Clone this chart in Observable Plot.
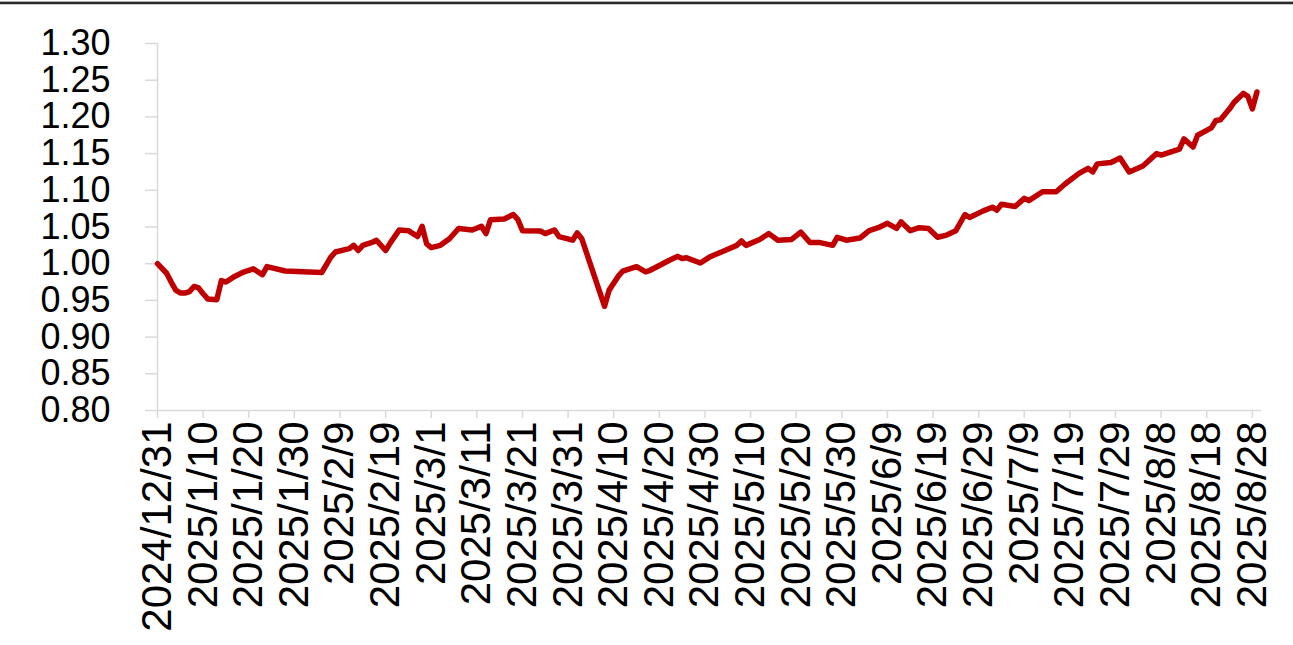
<!DOCTYPE html>
<html>
<head>
<meta charset="utf-8">
<script src="https://cdn.jsdelivr.net/npm/d3@7"></script>
<script src="https://cdn.jsdelivr.net/npm/@observablehq/plot@0.6"></script>
<style>
  html, body { margin: 0; padding: 0; background: #fff; }
  #wrap { position: relative; width: 1293px; height: 645px; overflow: hidden; }
  #topline { position: absolute; left: 0; top: 1px; width: 1293px; height: 4px;
    background: linear-gradient(#b0b0b0 0, #b0b0b0 1px, #2a2a2a 1px, #2a2a2a 3px, #c8c8c8 3px, #c8c8c8 4px); }
</style>
</head>
<body>
<div id="wrap"><div id="topline"></div><div id="chart"></div></div>
<script>
const dates = [
  "2024-12-31","2025-01-02","2025-01-03","2025-01-04","2025-01-05","2025-01-06","2025-01-07","2025-01-08",
  "2025-01-09","2025-01-10","2025-01-11","2025-01-13","2025-01-14","2025-01-15","2025-01-17","2025-01-19",
  "2025-01-21","2025-01-23","2025-01-24","2025-01-28","2025-02-05","2025-02-07","2025-02-08","2025-02-11",
  "2025-02-12","2025-02-13","2025-02-14","2025-02-16","2025-02-17","2025-02-19","2025-02-20","2025-02-22",
  "2025-02-24","2025-02-26","2025-02-27","2025-02-28","2025-03-01","2025-03-03","2025-03-05","2025-03-07",
  "2025-03-10","2025-03-12","2025-03-13","2025-03-14","2025-03-17","2025-03-19","2025-03-20","2025-03-21",
  "2025-03-25","2025-03-26","2025-03-28","2025-03-29","2025-04-01","2025-04-02","2025-04-03","2025-04-08",
  "2025-04-09","2025-04-11","2025-04-12","2025-04-15","2025-04-17","2025-04-18","2025-04-22","2025-04-24",
  "2025-04-25","2025-04-26","2025-04-29","2025-05-01","2025-05-04","2025-05-07","2025-05-08","2025-05-09",
  "2025-05-12","2025-05-13","2025-05-14","2025-05-16","2025-05-19","2025-05-21","2025-05-23","2025-05-25",
  "2025-05-28","2025-05-29","2025-05-31","2025-06-03","2025-06-05","2025-06-07","2025-06-09","2025-06-11",
  "2025-06-12","2025-06-14","2025-06-16","2025-06-18","2025-06-20","2025-06-22","2025-06-24","2025-06-26",
  "2025-06-27","2025-06-30","2025-07-02","2025-07-03","2025-07-04","2025-07-07","2025-07-09","2025-07-10",
  "2025-07-13","2025-07-16","2025-07-18","2025-07-21","2025-07-23","2025-07-24","2025-07-25","2025-07-28",
  "2025-07-30","2025-08-01","2025-08-04","2025-08-07","2025-08-08","2025-08-12","2025-08-13","2025-08-15",
  "2025-08-16","2025-08-19","2025-08-20","2025-08-21","2025-08-23","2025-08-24","2025-08-26","2025-08-27",
  "2025-08-28","2025-08-29"
];
const values = [
  1.000,0.987,0.975,0.964,0.960,0.960,0.962,0.969,
  0.967,0.959,0.952,0.951,0.977,0.975,0.983,0.989,
  0.993,0.985,0.996,0.990,0.988,1.009,1.016,1.0205,
  1.025,1.018,1.025,1.029,1.032,1.018,1.028,1.046,
  1.045,1.037,1.051,1.027,1.022,1.025,1.034,1.048,
  1.046,1.051,1.041,1.060,1.061,1.067,1.060,1.045,
  1.0445,1.041,1.046,1.037,1.032,1.042,1.034,0.942,
  0.964,0.983,0.990,0.996,0.989,0.991,1.004,1.010,
  1.007,1.008,1.001,1.009,1.017,1.025,1.031,1.025,
  1.033,1.037,1.041,1.032,1.033,1.043,1.029,1.029,
  1.025,1.036,1.032,1.035,1.045,1.049,1.055,1.048,
  1.057,1.045,1.049,1.048,1.036,1.039,1.045,1.067,
  1.063,1.072,1.077,1.073,1.081,1.078,1.089,1.086,
  1.098,1.098,1.109,1.123,1.130,1.125,1.136,1.138,
  1.144,1.125,1.133,1.150,1.148,1.156,1.170,1.159,
  1.175,1.185,1.195,1.196,1.211,1.220,1.232,1.228,
  1.211,1.234
];
const xTickDates = [
  "2024-12-31","2025-01-10","2025-01-20","2025-01-30","2025-02-09","2025-02-19","2025-03-01",
  "2025-03-11","2025-03-21","2025-03-31","2025-04-10","2025-04-20","2025-04-30","2025-05-10",
  "2025-05-20","2025-05-30","2025-06-09","2025-06-19","2025-06-29","2025-07-09","2025-07-19",
  "2025-07-29","2025-08-08","2025-08-18","2025-08-28"
];
const yTicks = [0.80,0.85,0.90,0.95,1.00,1.05,1.10,1.15,1.20,1.25,1.30];
const xDomain = ["2024-12-31","2025-08-30"];

const parse = d3.utcParse("%Y-%m-%d");
const data = dates.map((d, i) => ({date: parse(d), value: values[i]}));
const fmtDate = d3.utcFormat("%Y/%-m/%-d");
const axisColor = "#d9d9d9";

const chart = Plot.plot({
  width: 1293,
  height: 645,
  marginLeft: 157,
  marginRight: 32,
  marginTop: 43,
  marginBottom: 235,
  style: {fontFamily: "'Liberation Sans', Arial, sans-serif", background: "transparent", color: "#000", overflow: "visible"},
  x: {type: "utc", domain: xDomain.map(parse)},
  y: {domain: [0.80, 1.30]},
  marks: [
    Plot.ruleX([parse(xDomain[0])], {y1: 0.80, y2: 1.30, stroke: axisColor, strokeWidth: 1.5}),
    Plot.ruleY([0.80], {stroke: axisColor, strokeWidth: 1.5}),
    Plot.axisY({ticks: yTicks, tickSize: 12, tickPadding: 35, tickFormat: d3.format(".2f"),
      fontSize: 36, stroke: axisColor, fill: "#000", strokeWidth: 1.5, label: null}),
    Plot.axisX({ticks: xTickDates.map(parse), tickSize: 8, tickPadding: 3, tickRotate: -90,
      tickFormat: fmtDate, fontSize: 42, stroke: axisColor, fill: "#000", strokeWidth: 1.5, label: null}),
    Plot.line(data, {x: "date", y: "value", stroke: "#C00000", strokeWidth: 5.5,
      strokeLinejoin: "round", strokeLinecap: "round"})
  ]
});
document.getElementById("chart").appendChild(chart);
</script>
</body>
</html>
